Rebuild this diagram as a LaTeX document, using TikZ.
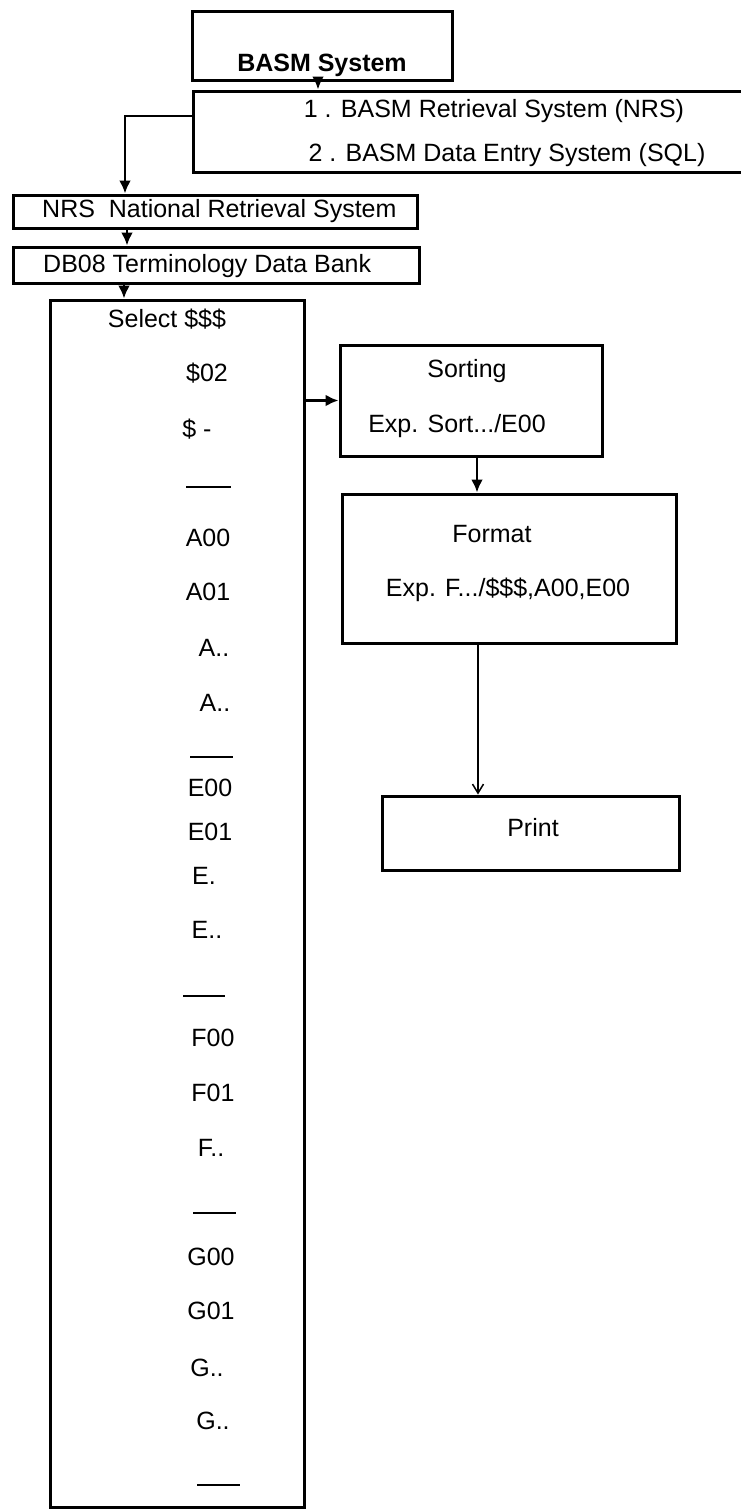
\documentclass[tikz,border=0pt]{standalone}
\usepackage{fontspec}
\setmainfont{Liberation Sans}
\usetikzlibrary{positioning, arrows.meta, calc}

\begin{document}
\begin{tikzpicture}[x=1pt, y=-1pt,
		box/.style={rectangle, draw, line width=3pt, inner sep=0pt},
		txt/.style={inner sep=0pt, text height=18pt, text depth=0pt, font=\fontsize{25pt}{30pt}\selectfont},
		arr/.style={line width=2.6pt, -{Latex[length=13pt, width=12pt]}},
		thinarr/.style={line width=1.5pt, -{Straight Barb[length=9pt, width=11pt]}},
		sepline/.style={line width=1.6pt}]
		\useasboundingbox (0,0) rectangle (740,1510);

		\node (basm)[box, minimum width=260pt, minimum height=69pt] at (322,45.5) {};
		\node (basmText)[txt, font=\fontsize{25pt}{30pt}\selectfont\bfseries] at (322,62) {BASM System};
		\node (systems)[box, minimum width=607pt, minimum height=81pt] at (496.5,131.5) {};
		\node (sysOne)[txt] at (494,108) {1 . BASM Retrieval System (NRS)};
		\node (sysTwo)[txt] at (507,152) {2 . BASM Data Entry System (SQL)};
		\node (nrs)[box, minimum width=404pt, minimum height=33pt] at (215,211.5) {};
		\node (nrsText)[txt, anchor=west] at (42,208) {NRS\ \ National Retrieval System};
		\node (db)[box, minimum width=406pt, minimum height=36pt] at (216,265) {};
		\node (dbText)[txt, anchor=west] at (43,263) {DB08 Terminology Data Bank};
		\node (select)[box, minimum width=254pt, minimum height=1207pt] at (177,903.5) {};
		\node (selectText)[txt] at (167,318) {Select \$\$\$};
		\node (sorting)[box, minimum width=262pt, minimum height=111pt] at (471,400.5) {};
		\node (sortingText)[txt] at (467,368) {Sorting};
		\node (sortingExp)[txt] at (457,423) {Exp. Sort.../E00};
		\node (format)[box, minimum width=334pt, minimum height=149pt] at (509,568.5) {};
		\node (formatText)[txt] at (492,533) {Format};
		\node (formatExp)[txt] at (508,587) {Exp. F.../\$\$\$,A00,E00};
		\node (print)[box, minimum width=297pt, minimum height=74pt] at (530.5,833) {};
		\node (printText)[txt] at (533,827) {Print};

		% codes listed in the select box
		\foreach \x/\y/\code [count=\i] in {207/372/\$02, 197/428/\$ -, 208/537/A00, 208/591/A01, 214/647/A.., 215/702/A..,
			210/787/E00, 210/831/E01, 204/875/E., 207/929/E.., 213/1037/F00, 213/1092/F01, 211/1147/F..,
			211/1256/G00, 211/1310/G01, 207/1367/G.., 213/1420/G..}
			\node (code\i)[txt] at (\x,\y) {\code};
		\foreach \xa/\xb/\y in {186/231/487, 190/233/757, 183/225/996, 193/236/1213, 197/240/1485}
			\draw[sepline] (\xa,\y) -- (\xb,\y);

		\draw[arr] ([xshift=-4pt]basm.south) -- ([xshift=-4pt]basm.south |- systems.north);
		\draw[arr] ([yshift=15.5pt]systems.west) -| ([xshift=-90pt]nrs.north);
		\draw[arr] ([xshift=-88pt]nrs.south) -- ([xshift=-88pt]nrs.south |- db.north);
		\draw[arr] ([xshift=-92pt]db.south) -- ([xshift=-92pt]db.south |- select.north);
		\draw[arr] (select.east |- sorting.west) -- (sorting.west);
		\draw[arr] ([xshift=6pt]sorting.south) -- ([xshift=6pt]sorting.south |- format.north);
		\draw[thinarr] ([xshift=-31pt]format.south) -- ([xshift=-31pt]format.south |- print.north);
	\end{tikzpicture}
\end{document}
